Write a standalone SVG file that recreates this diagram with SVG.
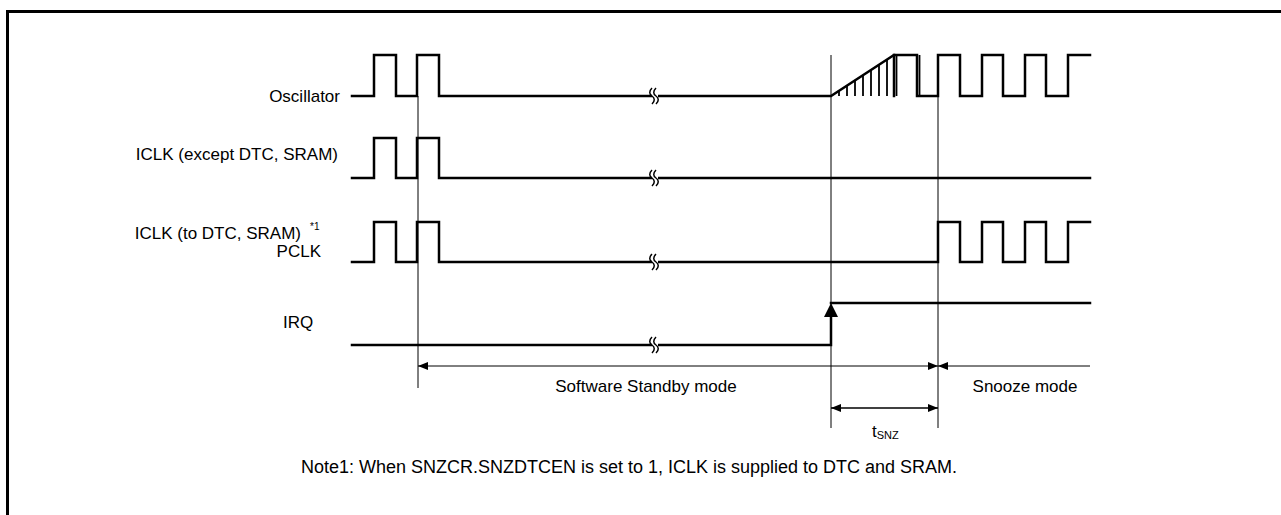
<svg xmlns="http://www.w3.org/2000/svg" width="1281" height="515" viewBox="0 0 1281 515">
<defs>
<style>
.sig{fill:none;stroke:#000;stroke-width:2.5;stroke-linejoin:miter;stroke-linecap:square}
.thin{fill:none;stroke:#000;stroke-width:1}
.hatch{fill:none;stroke:#000;stroke-width:1.8}
.dim{fill:none;stroke:#000;stroke-width:1.5}
.lbl{font-family:"Liberation Sans",Arial,sans-serif;font-size:17px;fill:#000}
.brk{fill:none;stroke:#000;stroke-width:1.5}
</style>
<marker id="ah" viewBox="0 0 10 8" refX="10" refY="4" markerWidth="10" markerHeight="8" markerUnits="userSpaceOnUse" orient="auto-start-reverse">
<path d="M0,0 L10,4 L0,8 Z" fill="#000"/>
</marker>
</defs>
<rect x="0" y="0" width="1281" height="515" fill="#fff"/>
<path d="M7.5,515 L7.5,11.5 L1281,11.5" fill="none" stroke="#000" stroke-width="3"/>

<g id="labels">
<text class="lbl" x="340" y="102" text-anchor="end">Oscillator</text>
<text class="lbl" x="338" y="160" text-anchor="end">ICLK (except DTC, SRAM)</text>
<text class="lbl" x="301" y="239" text-anchor="end">ICLK (to DTC, SRAM)</text>
<text class="lbl" x="310" y="230" style="font-size:10px">*1</text>
<text class="lbl" x="321" y="257" text-anchor="end">PCLK</text>
<text class="lbl" x="283" y="328">IRQ</text>
</g>

<g id="connectors">
<line class="thin" x1="418" y1="96" x2="418" y2="388"/>
<line class="thin" x1="831" y1="55" x2="831" y2="428"/>
<line class="thin" x1="938" y1="96" x2="938" y2="428"/>
<line class="thin" x1="418" y1="366" x2="938" y2="366" marker-start="url(#ah)" marker-end="url(#ah)"/>
<line class="thin" x1="938" y1="366" x2="1090" y2="366" marker-start="url(#ah)"/>
<line class="dim" x1="831" y1="408" x2="938" y2="408" marker-start="url(#ah)" marker-end="url(#ah)"/>
</g>

<g id="oscillator">
<path class="sig" d="M352,96 H374 V55 H396 V96 H417 V55 H439 V96 H831 L894,55 H917 V96 H938 V55 H960 V96 H982 V55 H1003 V96 H1025 V55 H1046 V96 H1068 V55 H1090"/>
<line class="sig" x1="894" y1="55" x2="894" y2="96"/>
<line class="hatch" x1="896.5" y1="55" x2="896.5" y2="96"/>
<line class="hatch" x1="919.5" y1="55" x2="919.5" y2="96"/>
<g class="hatch">
<line x1="839" y1="96" x2="839" y2="91"/>
<line x1="847" y1="96" x2="847" y2="86"/>
<line x1="855" y1="96" x2="855" y2="80"/>
<line x1="863" y1="96" x2="863" y2="75"/>
<line x1="871" y1="96" x2="871" y2="70"/>
<line x1="879" y1="96" x2="879" y2="65"/>
<line x1="887" y1="96" x2="887" y2="60"/>
</g>
</g>

<g id="iclk-except">
<path class="sig" d="M352,178 H374 V138 H396 V178 H417 V138 H439 V178 H1090"/>
</g>

<g id="iclk-dtc-pclk">
<path class="sig" d="M352,262 H374 V222 H396 V262 H417 V222 H439 V262 H938 V222 H960 V262 H982 V222 H1003 V262 H1025 V222 H1046 V262 H1068 V222 H1090"/>
</g>

<g id="irq">
<path class="sig" d="M352,345 H831 V316"/>
<path class="sig" d="M831,303 H1090"/>
<path d="M824,317 L831,303 L838,317 Z" fill="#000"/>
</g>

<g id="breaks">
<g transform="translate(655,96)">
<rect x="-3" y="-3" width="6" height="6" fill="#fff"/>
<path class="brk" d="M-3,-8 C-6,-5 -6,-2 -3,0 C0,2 0,5 -3,8"/>
<path class="brk" d="M1,-8 C-2,-5 -2,-2 1,0 C4,2 4,5 1,8"/>
</g>
<g transform="translate(655,178)">
<rect x="-3" y="-3" width="6" height="6" fill="#fff"/>
<path class="brk" d="M-3,-8 C-6,-5 -6,-2 -3,0 C0,2 0,5 -3,8"/>
<path class="brk" d="M1,-8 C-2,-5 -2,-2 1,0 C4,2 4,5 1,8"/>
</g>
<g transform="translate(655,262)">
<rect x="-3" y="-3" width="6" height="6" fill="#fff"/>
<path class="brk" d="M-3,-8 C-6,-5 -6,-2 -3,0 C0,2 0,5 -3,8"/>
<path class="brk" d="M1,-8 C-2,-5 -2,-2 1,0 C4,2 4,5 1,8"/>
</g>
<g transform="translate(655,345)">
<rect x="-3" y="-3" width="6" height="6" fill="#fff"/>
<path class="brk" d="M-3,-8 C-6,-5 -6,-2 -3,0 C0,2 0,5 -3,8"/>
<path class="brk" d="M1,-8 C-2,-5 -2,-2 1,0 C4,2 4,5 1,8"/>
</g>
</g>

<g id="annotations">
<text class="lbl" x="646" y="392" text-anchor="middle">Software Standby mode</text>
<text class="lbl" x="1025" y="392" text-anchor="middle">Snooze mode</text>
<text class="lbl" x="872" y="437">t<tspan style="font-size:11px" dy="2">SNZ</tspan></text>
<text class="lbl" x="629" y="473" text-anchor="middle" style="font-size:18px">Note1: When SNZCR.SNZDTCEN is set to 1, ICLK is supplied to DTC and SRAM.</text>
</g>
</svg>
